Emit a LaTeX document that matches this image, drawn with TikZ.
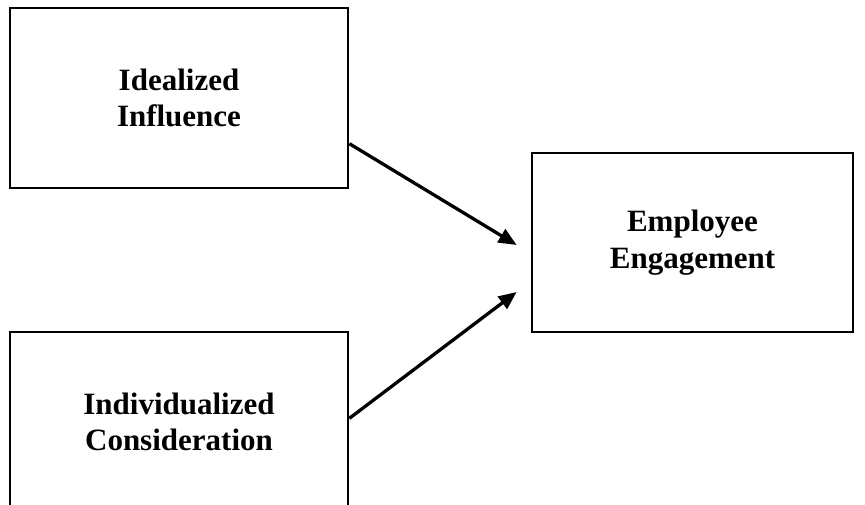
\documentclass[tikz,border=0pt]{standalone}
\usepackage{fontspec}
\setmainfont{Liberation Serif}
\usetikzlibrary{arrows.meta,calc}
\begin{document}
\begin{tikzpicture}[x=1pt,y=1pt,
  boxnode/.style={draw=black,line width=2.7pt,rectangle,align=center,inner sep=0pt,
    font=\fontsize{31}{36.5}\selectfont\bfseries},
  arrowline/.style={line width=3.3pt,-{Triangle[length=18pt,width=15pt]}}]
\useasboundingbox (0,0) rectangle (865,-505);
\clip (0,0) rectangle (865,-505);
\node[boxnode,minimum width=338pt,minimum height=180pt] (ii) at (179,-98) {Idealized\\Influence};
\node[boxnode,minimum width=338pt,minimum height=180pt] (ic) at (179,-422) {Individualized\\Consideration};
\node[boxnode,minimum width=321pt,minimum height=179pt] (ee) at (692.5,-242.5) {Employee\\Engagement};
\coordinate (s1) at ($(ii.south east)!0.25!(ii.north east)$);
\coordinate (s2) at ($(ic.north east)!0.48!(ic.south east)$);
\coordinate (t1) at ($(ee.west)+(-14,-2.5)$);
\coordinate (t2) at ($(ee.west)+(-14,-49.5)$);
\draw[arrowline] (s1) -- (t1);
\draw[arrowline] (s2) -- (t2);
\end{tikzpicture}
\end{document}
